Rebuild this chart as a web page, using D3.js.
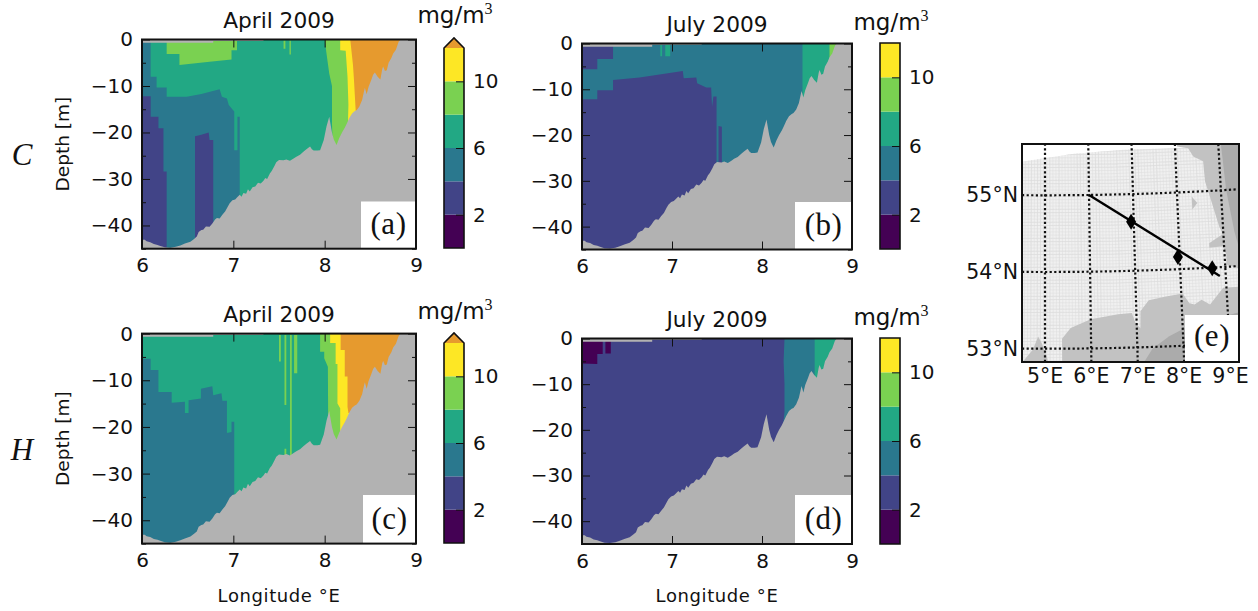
<!DOCTYPE html>
<html><head><meta charset="utf-8">
<script src="https://cdn.jsdelivr.net/npm/d3@7/dist/d3.min.js"></script>
<style>html,body{margin:0;padding:0;background:#fff}svg{display:block}text{font-family:"DejaVu Sans",sans-serif;fill:#111}</style>
</head><body><svg id="c" width="1258" height="611"></svg>
<script>
// ---- data -----
const levels=[0,2,4,6,8,10,12];
const levelColors=["#440154","#414487","#2a788e","#22a884","#7ad151","#fde725","#e69a2e"];
const lonTicks=[6,7,8,9];
const depthTicks=[0,-10,-20,-30,-40];
const depthMinor=[-5,-15,-25,-35,-45];
const cbTicks=[2,6,10];
// seabed along the transect [longitude, depth]
const seabed=[[6,43.1],[6.03,43.1],[6.05,43.4],[6.09,43.6],[6.13,44],[6.17,44.2],[6.2,44.4],[6.25,44.7],[6.31,44.8],[6.37,44.6],[6.42,44.3],[6.47,43.9],[6.53,43.5],[6.57,42.9],[6.6,42.4],[6.62,41.4],[6.65,41],[6.67,40.9],[6.7,40.2],[6.74,40.3],[6.77,39.6],[6.8,38.7],[6.82,38.4],[6.85,38.5],[6.88,37.7],[6.91,37],[6.94,35.9],[6.96,35.2],[6.99,34.6],[7.02,34.4],[7.04,34],[7.07,33.4],[7.09,33.8],[7.11,33],[7.14,33.2],[7.16,32.2],[7.18,32.7],[7.21,31.8],[7.24,31.6],[7.27,30.8],[7.3,31],[7.33,30.4],[7.35,29.8],[7.37,30],[7.4,28.8],[7.42,28.3],[7.45,27.2],[7.47,26.4],[7.5,25.9],[7.55,26],[7.58,25.8],[7.62,26.1],[7.66,25.6],[7.69,25.2],[7.73,24.8],[7.77,24.1],[7.8,23.6],[7.84,23],[7.86,23.6],[7.88,23.9],[7.92,23.9],[7.95,23.8],[7.99,21.6],[8.02,18.7],[8.05,16.6],[8.08,20],[8.1,21.5],[8.13,22.7],[8.16,21.2],[8.19,20],[8.22,19],[8.24,18.2],[8.27,16.9],[8.3,15.9],[8.33,15.4],[8.35,15.2],[8.38,14.4],[8.41,13],[8.43,11.2],[8.44,10.4],[8.46,11.8],[8.48,10.2],[8.51,8.7],[8.53,7.6],[8.55,7.1],[8.58,8],[8.61,8.6],[8.63,6.4],[8.64,5.8],[8.66,6.8],[8.68,6.6],[8.7,5],[8.73,4],[8.75,3],[8.78,2.2],[8.81,0.5],[8.83,0],[9,0]];
// thin grey surface strip [longitude, depth]
const surface=[[6,0.7],[6.78,0.7],[6.78,0.3],[7.33,0.3],[7.33,0.05],[9,0.05]];
// class regions: [level index, polygon of [longitude, depth]] painted in order
const regionsA=[
 [2,[[6,0],[6.095,0],[6.095,8],[6.16,8],[6.16,10.3],[6.27,10.3],[6.27,12.3],[6.49,12.3],[6.65,11.7],[6.85,10.7],[6.875,12.3],[6.93,12.7],[6.95,14.1],[7.01,15.5],[7.01,23.8],[7.045,23.8],[7.045,16.6],[7.07,16.6],[7.07,46],[6,46]]],
 [1,[[6,12.2],[6.095,12.2],[6.095,16.6],[6.18,16.6],[6.18,19.1],[6.235,19.1],[6.235,28.4],[6.27,28.4],[6.27,46],[6,46]]],
 [1,[[6.58,46],[6.58,20.8],[6.65,20.5],[6.73,20],[6.74,21.6],[6.78,21.6],[6.78,46]]],
 [4,[[6.27,0],[6.27,3.1],[6.41,3.1],[6.41,5.5],[6.74,4.8],[6.98,4.3],[6.98,2.3],[7.04,2.3],[7.04,0]]],
 [4,[[7.55,0.2],[7.57,0.2],[7.57,2],[7.55,2]]],
 [4,[[7.615,0.2],[7.63,0.2],[7.63,3.2],[7.615,3.2]]],
 [4,[[8,0],[8.02,3],[8.05,7.3],[8.08,10],[8.08,18],[8.09,24],[9,24],[9,0]]],
 [5,[[8.17,0],[8.17,2.3],[8.23,2.4],[8.25,8],[8.26,14],[8.25,22],[9,22],[9,0]]],
 [6,[[8.28,0],[8.31,5.5],[8.32,8.4],[8.34,15.5],[9,15.5],[9,0]]]
];
const regionsB=[
 [1,[[6,0],[6.345,0],[6.345,3.4],[6.17,3.4],[6.17,5.6],[6,5.6]]],
 [1,[[6,12.2],[6.17,12.2],[6.17,10.2],[6.345,10.2],[6.345,8],[6.64,7.4],[7.12,6],[7.13,7.6],[7.27,7.4],[7.28,8.7],[7.38,9.6],[7.435,9.6],[7.445,13.8],[7.46,11.6],[7.495,11.6],[7.495,46],[6,46]]],
 [1,[[7.517,18],[7.554,18.2],[7.554,27],[7.517,27]]],
 [3,[[6.87,0.3],[6.89,0.3],[6.89,2.8],[6.87,2.8]]],
 [3,[[6.925,0.3],[6.98,0.3],[6.98,2.8],[6.925,2.8]]],
 [3,[[8.45,0],[8.45,30],[9,30],[9,0]]],
 [4,[[8.75,0],[8.75,4],[9,4],[9,0]]]
];
const regionsC=[
 [2,[[6,5.4],[6.095,5.4],[6.095,7.8],[6.18,7.8],[6.18,12.5],[6.325,12.5],[6.325,14.8],[6.47,14.6],[6.47,17],[6.51,17],[6.51,14.3],[6.645,13.9],[6.645,11.8],[6.77,11.3],[6.78,13.2],[6.87,12.8],[6.88,14.4],[6.93,14.4],[6.93,21.3],[6.98,21.1],[6.98,18.9],[7.01,18.9],[7.01,46],[6,46]]],
 [4,[[7.5,0.3],[7.52,0.3],[7.52,6],[7.5,6]]],
 [4,[[7.56,0.3],[7.58,0.3],[7.58,15.3],[7.56,15.3]]],
 [4,[[7.56,24.7],[7.58,24.7],[7.58,27],[7.56,27]]],
 [4,[[7.62,0.3],[7.64,0.3],[7.64,27],[7.62,27]]],
 [4,[[7.665,0.3],[7.7,0.3],[7.7,8.5],[7.665,8.5]]],
 [4,[[7.95,0],[7.95,3.9],[7.995,3.9],[7.995,5.3],[8.035,7.1],[8.04,24],[9,24],[9,0]]],
 [5,[[8.06,0],[8.06,2],[8.12,2],[8.12,6.5],[8.14,6.5],[8.14,15],[8.17,16],[8.17,22],[9,22],[9,0]]],
 [6,[[8.175,0],[8.175,3.5],[8.22,3.5],[8.22,9.2],[8.25,9.2],[8.25,15.7],[8.26,17],[9,17],[9,0]]]
];
const regionsD=[
 [0,[[6,0],[6.23,0],[6.23,3.4],[6.17,3.4],[6.17,5.6],[6,5.5]]],
 [0,[[6.26,0],[6.32,0],[6.32,3.3],[6.26,3.3]]],
 [2,[[8.25,0],[8.24,5],[8.25,10],[8.25,16],[8.235,19],[8.235,22],[9,22],[9,0]]],
 [3,[[8.585,0],[8.585,12],[9,12],[9,0]]]
];
// map data
const mapMeridians=[5,6,7,8,9];
const mapParallels=[53,54,55];
const transect=[[6,55],[8.87,53.885]];
const stations=[[6.94,54.64],[7.96,54.16],[8.71,53.99]];
const gridLand=[[[5.37,52.7],[5.37,53.13],[5.56,53.27],[6,53.38],[6.6,53.44],[6.9,53.45],[6.98,53.31],[7.08,53.25],[7.09,53.47],[7.28,53.61],[7.66,53.65],[8.03,53.68],[8.17,53.55],[8.28,53.53],[8.44,53.59],[8.62,53.52],[8.93,53.73],[9.4,53.73],[9.4,52.7]],
 [[4.52,52.83],[4.74,52.99],[4.85,53.16],[4.93,53.07],[5.04,52.9],[5.11,52.7],[4.5,52.7]],
 [[8.0,55.7],[8.05,55.6],[8.3,55.57],[8.41,55.46],[8.63,55.39],[8.65,55.13],[8.75,54.91],[8.92,54.52],[8.99,54.43],[8.67,54.32],[8.67,54.26],[8.97,54.27],[9.04,54.16],[9.03,54.03],[9.6,53.9],[9.6,55.7]],
 [[8.33,54.94],[8.45,54.85],[8.33,54.77]]];
const outerLand=[[[7.02,52.7],[7.33,52.98],[7.7,53.13],[8.12,53.25],[9.4,53.42],[9.4,52.7]],
 [[9.05,55.7],[9.12,55.0],[9.25,54.45],[9.45,53.92],[9.7,53.9],[9.7,55.7]]];
const seaEdge=[[4.3,55.42],[4.5,55.44],[5.66,55.54],[6.82,55.58],[8.06,55.58],[9.6,55.58],[9.6,52.6],[4.3,52.6]];

// ---- panels ----
const panels=[
 {title:"April 2009",x:[142,416],y:[39.5,248.7],bg:3,regions:regionsA,tag:"(a)",box:[361,201.5],tx:279,ty:28,cb:[444,464,48,248],arrow:true,unit:[455,23],xlab:null},
 {title:"July 2009",x:[582,852],y:[43.5,249.5],bg:2,regions:regionsB,tag:"(b)",box:[795,202],tx:717,ty:32,cb:[880,900,43,249],arrow:false,unit:[891,30],xlab:null},
 {title:"April 2009",x:[142,416],y:[333.6,543.6],bg:3,regions:regionsC,tag:"(c)",box:[363,495],tx:279,ty:322,cb:[444,464,343,543],arrow:true,unit:[455,319],xlab:"Longitude °E"},
 {title:"July 2009",x:[582,852],y:[338.5,544],bg:1,regions:regionsD,tag:"(d)",box:[795,495],tx:717,ty:327,cb:[880,900,338,544],arrow:false,unit:[891,325],xlab:"Longitude °E"}
];
const svg=d3.select("#c");
const defs=svg.append("defs");
const GREY="#b2b2b2";
function styleAxis(g,fs){g.select(".domain").remove();g.selectAll("line").attr("stroke","#111").attr("stroke-width",1);g.selectAll("text").style("font-size",fs+"px").attr("fill","#111");}
panels.forEach((p,i)=>{
 const x=d3.scaleLinear().domain([6,9]).range(p.x);
 const y=d3.scaleLinear().domain([0,-45]).range(p.y);
 const line=d3.line().x(d=>x(d[0])).y(d=>y(-d[1]));
 const id="clip"+i;
 defs.append("clipPath").attr("id",id).append("rect").attr("x",p.x[0]).attr("y",p.y[0]).attr("width",p.x[1]-p.x[0]).attr("height",p.y[1]-p.y[0]);
 const g=svg.append("g");
 const plot=g.append("g").attr("clip-path",`url(#${id})`);
 plot.append("rect").attr("x",x(6)).attr("y",y(0)).attr("width",x(9)-x(6)).attr("height",y(-45)-y(0)).attr("fill",levelColors[p.bg]);
 plot.selectAll("path.r").data(p.regions).enter().append("path").attr("class","r").attr("d",d=>line(d[1])+"Z").attr("fill",d=>levelColors[d[0]]);
 const area=d3.area().x(d=>x(d[0])).y0(y(-46)).y1(d=>y(-d[1]));
 plot.append("path").attr("d",area(seabed)).attr("fill",GREY);
 const area2=d3.area().x(d=>x(d[0])).y0(y(0)).y1(d=>y(-d[1]));
 plot.append("path").attr("d",area2(surface)).attr("fill",GREY);
 // ticks
 const L=8,M=4;
 const fmt=d3.format("d");
 g.append("g").attr("transform",`translate(0,${p.y[1]})`).call(d3.axisBottom(x).tickValues(lonTicks).tickFormat(fmt).tickSizeInner(-L).tickPadding(5.5).tickSizeOuter(0)).call(a=>styleAxis(a,20)).selectAll("text").attr("dy","0.9em");
 g.append("g").attr("transform",`translate(0,${p.y[0]})`).call(d3.axisTop(x).tickValues(lonTicks).tickFormat("").tickSizeInner(-L).tickSizeOuter(0)).call(a=>styleAxis(a,20));
 g.append("g").attr("transform",`translate(${p.x[0]},0)`).call(d3.axisLeft(y).tickValues(depthTicks).tickFormat(fmt).tickSizeInner(-L).tickPadding(9).tickSizeOuter(0)).call(a=>styleAxis(a,20));
 g.append("g").attr("transform",`translate(${p.x[1]},0)`).call(d3.axisRight(y).tickValues(depthTicks).tickFormat("").tickSizeInner(-L).tickSizeOuter(0)).call(a=>styleAxis(a,20));
 g.append("g").attr("transform",`translate(${p.x[0]},0)`).call(d3.axisLeft(y).tickValues(depthMinor).tickFormat("").tickSizeInner(-M).tickSizeOuter(0)).call(a=>styleAxis(a,20));
 g.append("g").attr("transform",`translate(${p.x[1]},0)`).call(d3.axisRight(y).tickValues(depthMinor).tickFormat("").tickSizeInner(-M).tickSizeOuter(0)).call(a=>styleAxis(a,20));
 // tag
 g.append("rect").attr("x",p.box[0]).attr("y",p.box[1]).attr("width",p.x[1]-p.box[0]).attr("height",p.y[1]-p.box[1]).attr("fill","#fff");
 g.append("text").attr("x",(p.box[0]+p.x[1])/2).attr("y",p.y[1]-15).attr("text-anchor","middle").style("font-family","'Liberation Serif',serif").style("font-size","31px").style("letter-spacing","0.5px").text(p.tag);
 // frame
 g.append("rect").attr("x",p.x[0]).attr("y",p.y[0]).attr("width",p.x[1]-p.x[0]).attr("height",p.y[1]-p.y[0]).attr("fill","none").attr("stroke","#111").attr("stroke-width",2);
 // title
 g.append("text").attr("x",p.tx).attr("y",p.ty).attr("text-anchor","middle").style("font-size","21.7px").text(p.title);
 if(i%2==0) g.append("text").attr("transform",`translate(69,${(p.y[0]+p.y[1])/2}) rotate(-90)`).attr("text-anchor","middle").style("font-size","18.5px").text("Depth [m]");
 if(p.xlab) g.append("text").attr("x",(p.x[0]+p.x[1])/2).attr("y",602).attr("text-anchor","middle").style("font-size","18px").style("letter-spacing","0.6px").text(p.xlab);
 // colourbar
 const [cx0,cx1,cy0,cy1]=p.cb;
 const c=d3.scaleLinear().domain([0,12]).range([cy1,cy0]);
 for(let k=0;k<6;k++) g.append("rect").attr("x",cx0).attr("y",c(levels[k+1])).attr("width",cx1-cx0).attr("height",c(levels[k])-c(levels[k+1])).attr("fill",levelColors[k]);
 let frame;
 if(p.arrow){
  const tip=c(12.6);
  g.append("path").attr("d",`M${cx0},${c(12)}L${(cx0+cx1)/2},${tip}L${cx1},${c(12)}Z`).attr("fill",levelColors[6]);
  frame=`M${cx0},${cy1}L${cx0},${c(12)}L${(cx0+cx1)/2},${tip}L${cx1},${c(12)}L${cx1},${cy1}Z`;
 } else frame=`M${cx0},${cy1}L${cx0},${cy0}L${cx1},${cy0}L${cx1},${cy1}Z`;
 g.append("g").attr("transform",`translate(${cx1},0)`).call(d3.axisRight(c).tickValues(cbTicks).tickFormat(fmt).tickSizeInner(-8).tickPadding(9).tickSizeOuter(0)).call(a=>styleAxis(a,20));
 g.append("path").attr("d",frame).attr("fill","none").attr("stroke","#111").attr("stroke-width",1.6);
 const u=g.append("text").attr("x",p.unit[0]).attr("y",p.unit[1]).attr("text-anchor","middle").style("font-size","23px").text("mg/m");
 u.append("tspan").attr("dy",-9).style("font-size","16px").style("font-family","'Liberation Serif',serif").text("3");
});
// row labels
svg.append("text").attr("x",22).attr("y",165).attr("text-anchor","middle").style("font-family","'Liberation Serif',serif").style("font-style","italic").style("font-size","31px").text("C");
svg.append("text").attr("x",22).attr("y",460).attr("text-anchor","middle").style("font-family","'Liberation Serif',serif").style("font-style","italic").style("font-size","31px").text("H");

// ---- map ----
const mx=[1022,1239], my=[144,362];
const proj=d3.geoConicConformal().parallels([54.5,54.5]).rotate([-5,0]).center([0,54]).scale(4395).translate([1045,272]).precision(0.1).clipExtent([[mx[0],my[0]],[mx[1],my[1]]]);
const gp=d3.geoPath(proj);
const poly=r=>{const f={type:"Polygon",coordinates:[r.concat([r[0]])]};
 if(d3.geoArea(f)>2*Math.PI) f.coordinates[0].reverse(); return f;};
const M=svg.append("g");
M.append("rect").attr("x",mx[0]).attr("y",my[0]).attr("width",mx[1]-mx[0]).attr("height",my[1]-my[0]).attr("fill","#fff");
defs.append("clipPath").attr("id","seaclip").append("path").attr("d",gp(poly(seaEdge)));
const seaG=M.append("g").attr("clip-path","url(#seaclip)");
seaG.append("rect").attr("x",mx[0]).attr("y",my[0]).attr("width",mx[1]-mx[0]).attr("height",my[1]-my[0]).attr("fill","#f0f0f0");
seaG.append("path").attr("d",gp(d3.geoGraticule().extent([[4,52],[10,56]]).step([0.07,0.042])())).attr("fill","none").attr("stroke","#dcdcdc").attr("stroke-width",0.5);
M.selectAll("path.gl").data(gridLand).enter().append("path").attr("class","gl").attr("d",d=>gp(poly(d))).attr("fill","#c2c2c2");
M.selectAll("path.ol").data(outerLand).enter().append("path").attr("class","ol").attr("d",d=>gp(poly(d))).attr("fill","#ababab");
mapMeridians.forEach(l=>M.append("path").attr("d",gp({type:"LineString",coordinates:d3.range(52.5,56.01,0.25).map(t=>[l,t])})).attr("fill","none").attr("stroke","#111").attr("stroke-width",2.2).attr("stroke-dasharray","2.2 2.4"));
mapParallels.forEach(t=>M.append("path").attr("d",gp({type:"LineString",coordinates:d3.range(4,10.01,0.25).map(l=>[l,t])})).attr("fill","none").attr("stroke","#111").attr("stroke-width",2.2).attr("stroke-dasharray","2.2 2.4"));
M.append("path").attr("d",gp({type:"LineString",coordinates:transect})).attr("fill","none").attr("stroke","#000").attr("stroke-width",2.4);
M.selectAll("path.st").data(stations).enter().append("path").attr("class","st").attr("transform",d=>`translate(${proj(d)})`).attr("d","M0,-8L5,0L0,8L-5,0Z").attr("fill","#000");
M.append("rect").attr("x",1185).attr("y",315).attr("width",54).attr("height",47).attr("fill","#fff");
M.append("text").attr("x",1212).attr("y",346).attr("text-anchor","middle").style("font-family","'Liberation Serif',serif").style("font-size","31px").style("letter-spacing","0.5px").text("(e)");
M.append("rect").attr("x",mx[0]).attr("y",my[0]).attr("width",mx[1]-mx[0]).attr("height",my[1]-my[0]).attr("fill","none").attr("stroke","#111").attr("stroke-width",2);
mapParallels.forEach(t=>{const py=proj.clipExtent(null)([4.45,t])[1];
 M.append("text").attr("x",1018).attr("y",py+1).attr("text-anchor","end").attr("dominant-baseline","middle").style("font-size","20.5px").text(t+"°N");});
mapMeridians.forEach(l=>{const px=proj([l,52.8])[0];
 M.append("text").attr("x",px).attr("y",383).attr("text-anchor","middle").style("font-size","20.5px").text(l+"°E");});
</script></body></html>
